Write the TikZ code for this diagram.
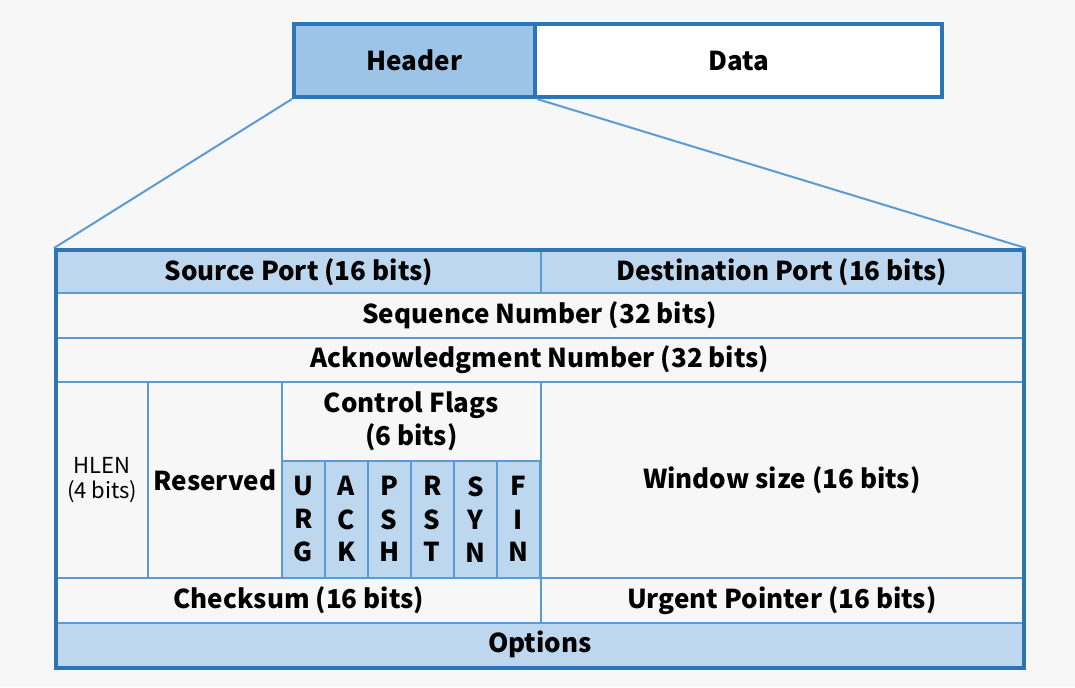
\documentclass[tikz,border=0pt]{standalone}
\usepackage{fontspec}
\setmainfont{Noto Sans CJK KR}
\usetikzlibrary{fit,positioning}
\definecolor{frameblue}{HTML}{2E75B6}
\definecolor{lineblue}{HTML}{5B9BD5}
\definecolor{cellblue}{HTML}{BDD7EE}
\definecolor{headblue}{HTML}{9DC3E6}
\definecolor{bggray}{HTML}{F7F7F7}
\tikzset{
  cell/.style={draw=lineblue, line width=0.8pt, anchor=north west, inner sep=0pt, align=center,
    font=\bfseries\fontsize{13}{16.5}\selectfont},
  bluecell/.style={cell, fill=cellblue},
  flag/.style={bluecell, minimum width=21.5pt, minimum height=58.5pt,
    font=\bfseries\fontsize{13}{16.5}\selectfont},
  topbox/.style={draw=frameblue, line width=2pt, anchor=north west, inner sep=0pt,
    minimum height=36.5pt, font=\bfseries\fontsize{13}{16.5}\selectfont},
  frame/.style={draw=frameblue, line width=2pt, inner sep=0pt},
  zoomline/.style={draw=lineblue, line width=1pt}
}

\begin{document}
\begin{tikzpicture}[x=0.5pt,y=-0.5pt]
	\fill[bggray] (0,0) rectangle (1075,687);
	\useasboundingbox (0,0) rectangle (1075,687);
	% segment
	\node (header) [topbox, fill=headblue, minimum width=120.5pt] at (292,22) {Header};
	\node (data) [topbox, fill=white, minimum width=203.5pt] at (533,22) {Data};
	% header fields
	\node (src) [bluecell, minimum width=242pt, minimum height=21pt] at (56,250) {Source Port (16 bits)};
	\node (dst) [bluecell, minimum width=241pt, minimum height=21pt] at (540,250) {Destination Port (16 bits)};
	\node (seq) [cell, minimum width=483pt, minimum height=22.5pt] at (56,292) {Sequence Number (32 bits)};
	\node (ack) [cell, minimum width=483pt, minimum height=22pt] at (56,337) {Acknowledgment Number (32 bits)};
	\node (hlen) [cell, minimum width=45.5pt, minimum height=98pt, font=\fontsize{11}{12.5}\selectfont] at (56,381) {HLEN\\(4 bits)};
	\node (rsv) [cell, minimum width=67pt, minimum height=98pt] at (147,381) {Reserved};
	\node (ctrl) [cell, minimum width=129.5pt, minimum height=39.5pt] at (281,381) {Control Flags\\(6 bits)};
	\foreach \f [count=\i from 0] in {{U\\R\\G},{A\\C\\K},{P\\S\\H},{R\\S\\T},{S\\Y\\N},{F\\I\\N}}
		\node (flag\i) [flag] at ({281+43*\i},460) {\f};
	\node (win) [cell, minimum width=241pt, minimum height=98pt] at (540,381) {Window size (16 bits)};
	\node (chk) [cell, minimum width=242pt, minimum height=22.5pt] at (56,577) {Checksum (16 bits)};
	\node (urg) [cell, minimum width=241pt, minimum height=22.5pt] at (540,577) {Urgent Pointer (16 bits)};
	\node (opt) [bluecell, minimum width=483pt, minimum height=22pt] at (56,622) {Options};
	\node (tcp) [frame, fit=(src)(dst)(opt)] {};
	% zoom lines
	\draw[zoomline] (header.south west) -- (tcp.north west);
	\draw[zoomline] (header.south east) -- (tcp.north east);
\end{tikzpicture}
\end{document}
